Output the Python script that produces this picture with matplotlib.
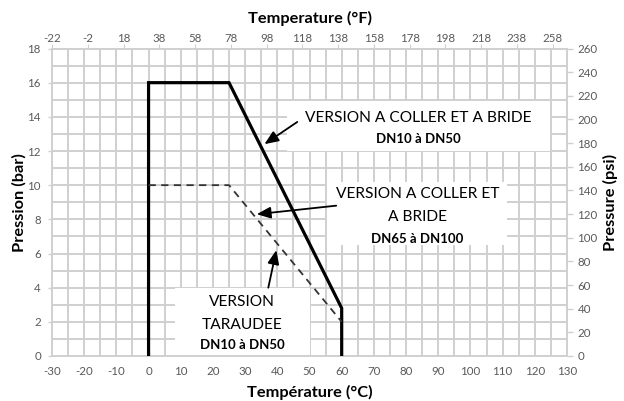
import matplotlib
matplotlib.use("Agg")
import matplotlib.pyplot as plt
from matplotlib.patches import Rectangle
import numpy as np

plt.rcParams['font.family'] = ['Lato', 'DejaVu Sans']
plt.rcParams['axes.unicode_minus'] = False

# Data
solid_T = [0, 0, 25, 60, 60]
solid_P = [0, 16, 16, 2.8, 0]
dash_T = [0, 25, 60]
dash_P = [10, 10, 2.0]

x_ticks_c = list(range(-30, 131, 10))
x_ticks_f = list(range(-22, 259, 20))
y_ticks_bar = list(range(0, 19, 2))
y_ticks_psi = list(range(0, 261, 20))

label1 = ["VERSION A COLLER ET A BRIDE", "DN10 à DN50"]
label2 = ["VERSION A COLLER ET", "A BRIDE", "DN65 à DN100"]
label3 = ["VERSION", "TARAUDEE", "DN10 à DN50"]

W, H = 624, 401
fig = plt.figure(figsize=(W / 100, H / 100), dpi=100)
x0, x1, y0, y1 = 52, 567, 356, 48.5
ax = fig.add_axes([x0 / W, (H - y0) / H, (x1 - x0) / W, (y0 - y1) / H])
aw, ah = x1 - x0, y0 - y1

grid_c = '#d0d0d0'
tick_c = '#595959'
tfs = 8.3
lfs = 11.8

ax.set_xlim(-30, 130)
ax.set_ylim(0, 18)
ax.set_xticks(x_ticks_c)
ax.set_yticks(y_ticks_bar)
ax.set_xticks(np.arange(-30, 131, 5), minor=True)
ax.set_yticks(np.arange(0, 19, 1), minor=True)
ax.grid(which='both', color=grid_c, lw=1.4, zorder=0)
ax.set_axisbelow(True)
for s in ax.spines.values():
    s.set_color(grid_c)
    s.set_linewidth(1.4)
ax.tick_params(which='minor', length=0)
ax.tick_params(which='major', labelsize=tfs, labelcolor=tick_c, color=grid_c)
ax.tick_params(axis='x', which='major', length=0, pad=7)
ax.tick_params(axis='y', which='major', length=3, width=1, pad=5)

ax.set_xlabel('Température (°C)', fontsize=lfs, fontweight='bold')
ax.xaxis.set_label_coords(0.5, (y0 - 392) / ah)
ax.xaxis.label.set_va('center')
ax.set_ylabel('Pression (bar)', fontsize=lfs, fontweight='bold')
ax.yaxis.set_label_coords((19 - x0) / aw, 0.5)
ax.yaxis.label.set_va('center')

# top axis (F)
sec = ax.secondary_xaxis('top', functions=(lambda c: c * 1.8 + 32, lambda f: (f - 32) / 1.8))
sec.set_xticks(x_ticks_f)
sec.tick_params(length=3, color=grid_c, labelsize=tfs, labelcolor=tick_c, pad=0.5)
sec.spines['top'].set_visible(False)
sec.set_xlabel('Temperature (°F)', fontsize=lfs, fontweight='bold')
sec.xaxis.set_label_coords(0.5, (y0 - 18) / ah, transform=ax.transAxes)
sec.xaxis.label.set_va('center')

# right axis (psi)
ax2 = ax.twinx()
ax2.set_ylim(0, 260)
ax2.set_yticks(y_ticks_psi)
ax2.tick_params(length=4, width=1, color=grid_c, labelsize=tfs, labelcolor=tick_c, pad=3.5)
for s in ax2.spines.values():
    s.set_visible(False)
ax2.set_ylabel('Pressure (psi)', fontsize=lfs, fontweight='bold')
ax2.yaxis.set_label_coords((610 - x0) / aw, 0.5)
ax2.yaxis.label.set_va('center')

# lines
ax.plot(solid_T, solid_P, color='black', lw=2.3, solid_joinstyle='miter', zorder=3)
ax.plot(dash_T, dash_P, color='#333333', lw=1.3, dashes=(4, 3), zorder=3)

# white boxes
boxes = [(43.1, 12.0, 124.7 - 43.1, 2.9), (55.5, 6.5, 111.4 - 55.5, 3.7), (8.3, 0.08, 50.2 - 8.3, 3.92)]
for (bx, by, bw, bh) in boxes:
    ax.add_patch(Rectangle((bx, by), bw, bh, facecolor='white', edgecolor='none', zorder=2))

# texts
nfs, bfs = 11.2, 9.5
ax.text(83.9, 13.95, label1[0], ha='center', va='center', fontsize=nfs, zorder=4)
ax.text(83.9, 12.7, label1[1], ha='center', va='center', fontsize=bfs, fontweight='bold', zorder=4)
ax.text(83.5, 9.5, label2[0], ha='center', va='center', fontsize=nfs, zorder=4)
ax.text(83.5, 8.15, label2[1], ha='center', va='center', fontsize=nfs, zorder=4)
ax.text(83.5, 6.86, label2[2], ha='center', va='center', fontsize=bfs, fontweight='bold', zorder=4)
ax.text(29.1, 3.17, label3[0], ha='center', va='center', fontsize=nfs, zorder=4)
ax.text(29.1, 1.82, label3[1], ha='center', va='center', fontsize=nfs, zorder=4)
ax.text(29.1, 0.64, label3[2], ha='center', va='center', fontsize=bfs, fontweight='bold', zorder=4)

# arrows
ap = dict(arrowstyle='-|>,head_length=0.6,head_width=0.25', color='black', lw=1.3, mutation_scale=14, shrinkA=0, shrinkB=0)
ax.annotate('', xy=(36.0, 12.4), xytext=(46.2, 13.7), arrowprops=ap, zorder=5)
ax.annotate('', xy=(33.6, 8.3), xytext=(58.3, 8.8), arrowprops=ap, zorder=5)
ax.annotate('', xy=(39.7, 6.2), xytext=(37.2, 4.0), arrowprops=ap, zorder=5)

fig.savefig('out.png', dpi=100)
